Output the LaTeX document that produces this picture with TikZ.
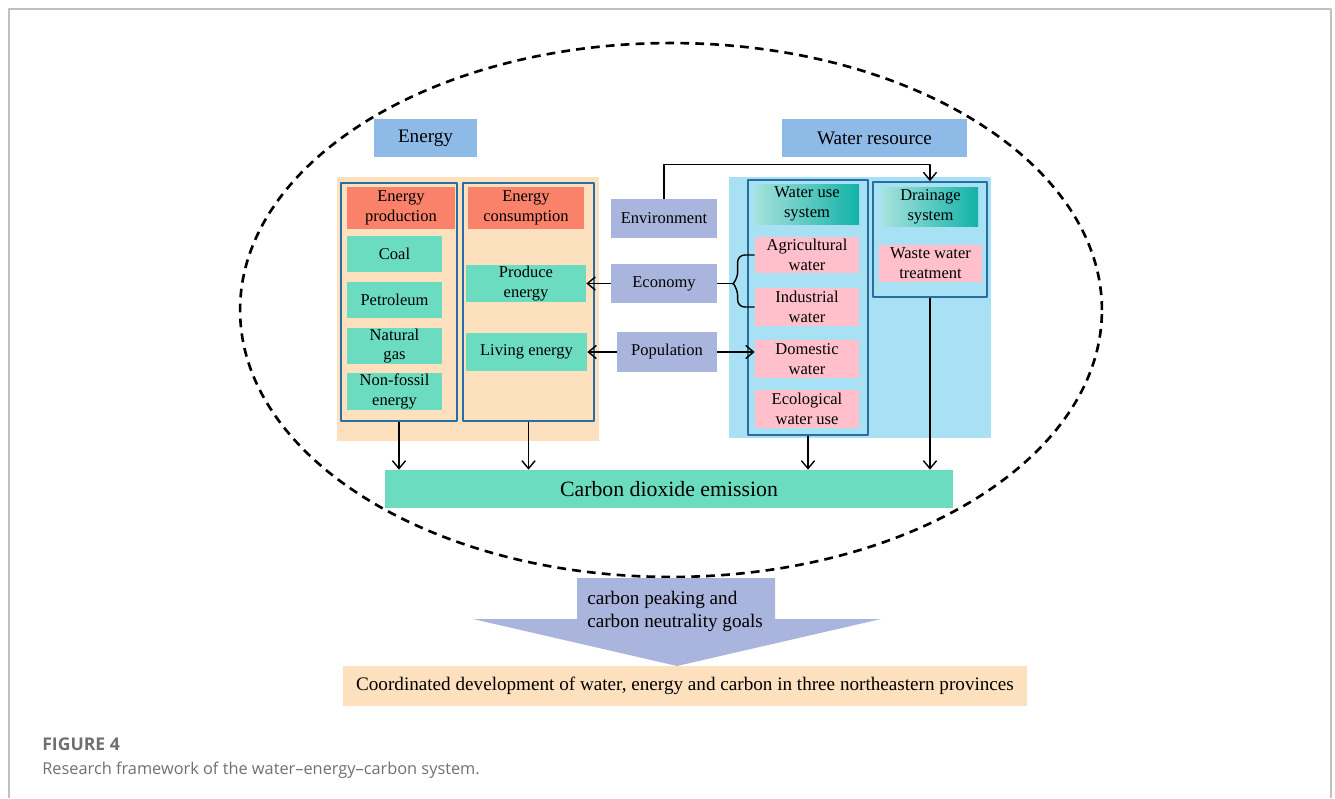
\documentclass[tikz,border=0pt]{standalone}
\usepackage{fontspec}
\setmainfont{Liberation Serif}
\newfontfamily\capfont{Open Sans}
\usetikzlibrary{arrows.meta}
\definecolor{peach}{RGB}{253,225,190}
\definecolor{skyblue}{RGB}{169,225,244}
\definecolor{headblue}{RGB}{142,186,232}
\definecolor{lavender}{RGB}{169,181,220}
\definecolor{salmon}{RGB}{250,130,106}
\definecolor{mint}{RGB}{108,220,192}
\definecolor{pinkbox}{RGB}{255,192,203}
\definecolor{framebl}{RGB}{40,110,160}
\definecolor{tealL}{RGB}{165,226,220}
\definecolor{tealR}{RGB}{18,178,168}
\definecolor{bordergray}{RGB}{192,192,192}
\definecolor{capgray}{RGB}{112,112,112}
\begin{document}
\begin{tikzpicture}[x=0.02cm,y=-0.02cm,>={Straight Barb[length=4.5pt,width=7.5pt]},line join=round,
  box/.style={inner sep=0pt,align=center,font=\fontsize{9.4}{11.2}\selectfont},
  framebox/.style={draw=framebl,line width=0.9pt,inner sep=0pt},
  headbox/.style={box,fill=headblue,minimum height=0.76cm,font=\fontsize{10.9}{12}\selectfont},
  factbox/.style={box,fill=lavender,minimum width=2.12cm,minimum height=0.78cm},
  salmonbox/.style={box,fill=salmon,minimum height=0.84cm},
  greenbox/.style={box,fill=mint,minimum width=1.9cm,minimum height=0.72cm},
  pinkbx/.style={box,fill=pinkbox,minimum width=2.08cm,minimum height=0.76cm},
  tealbox/.style={box,left color=tealL,right color=tealR,minimum height=0.8cm},
  link/.style={->,line width=0.8pt}]
\useasboundingbox (0,0) rectangle (1335,798);
\draw[bordergray,line width=0.7pt] (9,798) -- (9,9) -- (1331,9) -- (1331,798);
\draw[line width=1.5pt,dash pattern=on 5pt off 3.5pt] (671,310) ellipse [x radius=8.62cm,y radius=5.34cm];
\node[headbox,minimum width=2.06cm] (energy) at (425.5,138) {Energy};
\node[headbox,minimum width=3.7cm] (water) at (874.5,138) {Water resource};
\fill[peach] (337,177) rectangle (599,441);
\fill[skyblue] (729,177) rectangle (991,438);
\node[framebox,minimum width=2.32cm,minimum height=4.76cm] (prodfr) at (399,302) {};
\node[framebox,minimum width=2.62cm,minimum height=4.76cm] (consfr) at (528.5,302) {};
\node[framebox,minimum width=2.4cm,minimum height=5.1cm] (usefr) at (808,307.5) {};
\node[framebox,minimum width=2.28cm,minimum height=2.3cm] (drainfr) at (930,239.5) {};
\node[salmonbox,minimum width=2.16cm] (prodhd) at (401,208) {Energy\\production};
\node[salmonbox,minimum width=2.32cm] (conshd) at (526,208) {Energy\\consumption};
\node[greenbox] (coal) at (394.5,254) {Coal};
\node[greenbox] (petrol) at (394.5,300) {Petroleum};
\node[greenbox] (natgas) at (394.5,346) {Natural\\gas};
\node[greenbox,minimum height=0.74cm] (nonfossil) at (394.5,391.5) {Non-fossil\\energy};
\node[greenbox,minimum width=2.4cm,minimum height=0.74cm] (produce) at (526,283.5) {Produce\\energy};
\node[greenbox,minimum width=2.42cm,minimum height=0.76cm] (living) at (526.5,352) {Living energy};
\node[factbox] (environment) at (664,218.5) {Environment};
\node[factbox] (economy) at (664,283.5) {Economy};
\node[factbox,minimum width=2cm,minimum height=0.8cm] (population) at (667,352) {Population};
\node[tealbox,minimum width=2.08cm] (usehd) at (807,204) {Water use\\system};
\node[tealbox,minimum width=1.9cm,minimum height=0.78cm] (drainhd) at (930.5,206.5) {Drainage\\system};
\node[pinkbx,minimum height=0.72cm] (agri) at (807,255) {Agricultural\\water};
\node[pinkbx] (indus) at (807,307) {Industrial\\water};
\node[pinkbx] (domestic) at (807,359) {Domestic\\water};
\node[pinkbx] (eco) at (807,409) {Ecological\\water use};
\node[pinkbx,minimum width=2.06cm,minimum height=0.74cm] (waste) at (930.5,263.5) {Waste water\\treatment};
\node[fill=mint,inner sep=0pt,minimum width=11.36cm,minimum height=0.76cm,font=\fontsize{12.4}{14}\selectfont] (carbon) at (669,489) {Carbon dioxide emission};
\draw[link] (environment.north) -- ++(0,-34) -| (drainfr.north);
\draw[link] (economy.west) -- (produce.east);
\draw[link] (population.west) -- (living.east);
\draw[link] (population.east) -- (population.east -| domestic.west);
\draw[line width=0.8pt] (economy.east) -- ++(16,0) coordinate (cusp);
\draw[line width=0.8pt,rounded corners=4pt] (agri.west) -| ++(-17,24) -- (cusp);
\draw[line width=0.8pt,rounded corners=4pt] (indus.west) -| ++(-17,-18) -- (cusp);
\draw[link] (prodfr.south) -- (prodfr.south |- carbon.north);
\draw[link] (consfr.south) -- (consfr.south |- carbon.north);
\draw[link] (usefr.south) -- (usefr.south |- carbon.north);
\draw[link] (drainfr.south) -- (drainfr.south |- carbon.north);
\fill[lavender] (577,578) -- (775,578) -- (775,619) -- (881,619) -- (677,666) -- (473,619) -- (577,619) -- cycle;
\node[anchor=west,align=left,inner sep=0pt,font=\fontsize{10.9}{13}\selectfont] (goals) at (587,611) {carbon peaking and\\carbon neutrality goals};
\node[fill=peach,inner sep=0pt,minimum width=13.68cm,minimum height=0.8cm,font=\fontsize{10.9}{12}\selectfont] (coord) at (685,686) {Coordinated development of water, energy and carbon in three northeastern provinces};
\node[anchor=base west,inner sep=0pt,text=capgray,font=\capfont\bfseries\fontsize{10}{12}\selectfont] (figlabel) at (42,750) {FIGURE 4};
\node[anchor=base west,inner sep=0pt,text=capgray,font=\capfont\fontsize{9.3}{11}\selectfont] (figcaption) at (42,774) {Research framework of the water–energy–carbon system.};
\end{tikzpicture}
\end{document}
